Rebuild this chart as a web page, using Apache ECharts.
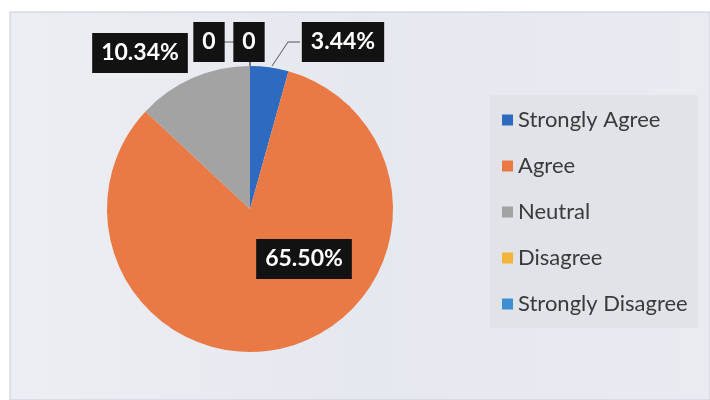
<!DOCTYPE html>
<html>
<head>
<meta charset="utf-8">
<script src="https://cdn.jsdelivr.net/npm/echarts@6/dist/echarts.min.js"></script>
<style>
html,body{margin:0;padding:0;background:#fff;}
#c{width:710px;height:400px;}
</style>
</head>
<body>
<div id="c"></div>
<script>
const categories = ['Strongly Agree', 'Agree', 'Neutral', 'Disagree', 'Strongly Disagree'];
const values = [3.44, 65.50, 10.34, 0, 0];
const colors = ['#2e6bc0', '#e97a45', '#a3a3a3', '#f2b43a', '#3d8fd2'];

// label placement (box centres) and leader lines, per category
const labelPos = [[343, 42], [304, 259], [140, 53], [209, 42], [249, 42]];
const labelLines = [
  [[300, 42], [288, 42], [272, 66]],
  null,
  null,
  [[223, 42], [250, 42], [250, 66]],
  [[250, 60], [250, 66]]
];

const chart = echarts.init(document.getElementById('c'), null, {renderer: 'canvas'});
chart.setOption({
  animation: false,
  graphic: [{
    type: 'rect',
    shape: {x: 10, y: 12, width: 700, height: 388},
    style: {
      fill: new echarts.graphic.LinearGradient(0, 0, 1, 0, [
        {offset: 0, color: '#eceef3'},
        {offset: 0.5, color: '#e6e8ef'},
        {offset: 1, color: '#e9ebf1'}
      ]),
      stroke: '#c9ccd3',
      lineWidth: 1
    },
    z: -10
  }],
  legend: {
    orient: 'vertical',
    left: 490,
    top: 95,
    padding: [14, 10, 13, 12],
    backgroundColor: '#e1e3e8',
    itemGap: 24,
    itemWidth: 11,
    itemHeight: 11,
    icon: 'rect',
    textStyle: {fontFamily: 'Lato', fontSize: 22, color: '#3a3a3a', lineHeight: 22},
    data: categories
  },
  series: [{
    type: 'pie',
    center: [250, 209],
    radius: 143,
    startAngle: 90,
    clockwise: true,
    avoidLabelOverlap: false,
    stillShowZeroSum: true,
    minShowLabelAngle: 0,
    label: {
      show: true,
      position: 'outside',
      formatter: p => p.value === 0 ? '0' : p.value.toFixed(2) + '%',
      backgroundColor: '#121212',
      color: '#ffffff',
      fontFamily: 'Lato',
      fontWeight: 'bold',
      fontSize: 23,
      padding: [9, 9, 8, 9]
    },
    labelLine: {show: true, lineStyle: {color: '#555', width: 1}},
    labelLayout: function (params) {
      const i = params.dataIndex;
      const out = {x: labelPos[i][0], y: labelPos[i][1], align: 'center', verticalAlign: 'middle'};
      if (labelLines[i]) out.labelLinePoints = labelLines[i];
      return out;
    },
    data: categories.map((name, i) => ({
      name: name,
      value: values[i],
      itemStyle: {color: colors[i]},
      labelLine: {show: !!labelLines[i]}
    }))
  }]
});
</script>
</body>
</html>
